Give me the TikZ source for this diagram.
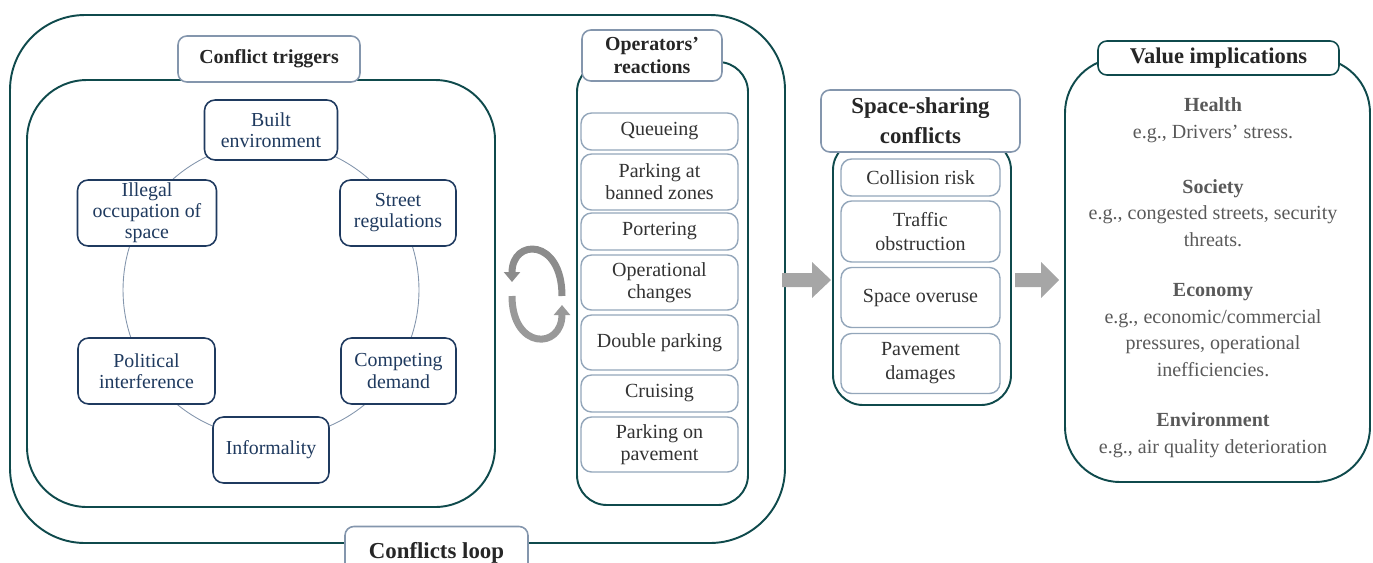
\documentclass[tikz,border=0pt]{standalone}
\usepackage{fontspec}
\setmainfont{Liberation Serif}
\usetikzlibrary{arrows.meta}
\definecolor{loopteal}{HTML}{0F4A4C}
\definecolor{trignavy}{HTML}{1F3A5F}
\definecolor{hdrblue}{HTML}{8496AD}
\definecolor{itmblue}{HTML}{93A6BA}
\definecolor{txtgray}{HTML}{333333}
\definecolor{valgray}{HTML}{595959}
\definecolor{arrgray}{HTML}{A6A6A6}

\begin{document}
\begin{tikzpicture}[x=0.02cm,y=-0.02cm,line cap=round,line join=round,
  every node/.style={inner sep=1pt,align=center},
  panel/.style={draw=loopteal,line width=1.1pt},
  hdr/.style={draw=hdrblue,fill=white,line width=0.9pt,rounded corners=5pt,text=black!85,font=\bfseries\fontsize{11.3}{13.5}\selectfont},
  trig/.style={draw=trignavy,fill=white,line width=0.9pt,rounded corners=6pt,text=trignavy,font=\fontsize{11.3}{12}\selectfont},
  reac/.style={draw=itmblue,fill=white,line width=0.8pt,rounded corners=6pt,text=txtgray,font=\fontsize{11.4}{12.5}\selectfont,minimum width=3.14cm},
  conf/.style={reac,minimum width=3.18cm,font=\fontsize{11.4}{13.7}\selectfont},
  valtxt/.style={text=valgray,font=\fontsize{11.4}{15.1}\selectfont},
  cyc/.style={line width=0.14cm,line cap=butt,-{Triangle[width=0.32cm,length=0.2cm]}},
  bigarr/.style={fill=arrgray}]
  \useasboundingbox (0,0) rectangle (1373,562);
  \clip (0,0) rectangle (1373,562);

  % frames
  \draw[panel,rounded corners=1.5cm] (10,15) rectangle (785,543);
  \draw[panel,rounded corners=1.2cm] (27,80) rectangle (495,507);
  \draw[panel,rounded corners=0.6cm] (577,62) rectangle (748,505);
  \draw[panel,rounded corners=0.6cm] (833,140) rectangle (1011,405);
  \draw[panel,rounded corners=1.1cm] (1065,58) rectangle (1370,482);

  % conflict triggers
  \draw[hdrblue,line width=0.5pt] (271,290) circle[radius=2.96cm];
  \node[trig,minimum width=2.66cm,minimum height=1.2cm] (bltenv) at (271,130) {Built\\environment};
  \node[trig,minimum width=2.32cm,minimum height=1.32cm] (strreg) at (398,213) {Street\\regulations};
  \node[trig,minimum width=2.78cm,minimum height=1.32cm] (illocc) at (147,213) {Illegal\\occupation of\\space};
  \node[trig,minimum width=2.74cm,minimum height=1.32cm] (polint) at (146.5,371) {Political\\interference};
  \node[trig,minimum width=2.3cm,minimum height=1.32cm] (cmpdem) at (398.5,371) {Competing\\demand};
  \node[trig,minimum width=2.32cm,minimum height=1.32cm] (infrm) at (271,450) {Informality};

  % operators' reactions
  \node[reac,minimum height=0.74cm] (rqueue) at (659.5,131.5) {Queueing};
  \node[reac,minimum height=1.12cm] (rban) at (659.5,182) {Parking at\\banned zones};
  \node[reac,minimum height=0.74cm] (rport) at (659.5,231.5) {Portering};
  \node[reac,minimum height=1.1cm] (roper) at (659.5,282.5) {Operational\\changes};
  \node[reac,minimum height=1.1cm] (rdouble) at (659.5,342.5) {Double parking};
  \node[reac,minimum height=0.74cm] (rcruise) at (659.5,393.5) {Cruising};
  \node[reac,minimum height=1.1cm] (rpave) at (659.5,444.5) {Parking on\\pavement};

  % space-sharing conflicts
  \node[conf,minimum height=0.74cm] (ccoll) at (920.5,177.5) {Collision risk};
  \node[conf,minimum height=1.22cm] (ctraf) at (920.5,231.5) {Traffic\\obstruction};
  \node[conf,minimum height=1.2cm] (cover) at (920.5,297.5) {Space overuse};
  \node[conf,minimum height=1.2cm] (cdamage) at (920.5,363.5) {Pavement\\damages};

  % value implications
  \node[valtxt] (vhealth) at (1213,120) {\textbf{Health}\\e.g., Drivers’ stress.};
  \node[valtxt] (vsoc) at (1213,213) {\textbf{Society}\\e.g., congested streets, security\\threats.};
  \node[valtxt] (vecon) at (1213,330) {\textbf{Economy}\\e.g., economic/commercial\\pressures, operational\\inefficiencies.};
  \node[valtxt] (venv) at (1213,435) {\textbf{Environment}\\e.g., air quality deterioration};

  % headers
  \node[hdr,minimum width=3.64cm,minimum height=0.92cm] (htrig) at (269,59) {Conflict triggers};
  \node[hdr,minimum width=2.8cm,minimum height=1.02cm] (hoper) at (652,55.5) {Operators’\\reactions};
  \node[hdr,minimum width=3.98cm,minimum height=1.24cm,font=\bfseries\fontsize{13}{17}\selectfont] (hspace) at (920.5,121) {Space-sharing\\conflicts};
  \node[hdr,draw=loopteal,minimum width=4.82cm,minimum height=0.68cm,font=\bfseries\fontsize{12.8}{14}\selectfont] (hvalue) at (1218.5,58) {Value implications};
  \node[hdr,minimum width=3.66cm,minimum height=1.06cm,font=\bfseries\fontsize{13}{15}\selectfont] (hloop) at (436.5,553) {Conflicts loop};

  % loop arrows
  \draw[cyc,black!45] (562,296) .. controls (562,238) and (512,238) .. (512,282);
  \draw[cyc,black!40] (512,296) .. controls (512,350) and (562,350) .. (562,305);

  % block arrows
  \fill[bigarr] (782,273) -- (812,273) -- (812,262) -- (831,280) -- (812,298) -- (812,287) -- (782,287) -- cycle;
  \fill[bigarr] (1015,273) -- (1041,273) -- (1041,262) -- (1059,280) -- (1041,298) -- (1041,287) -- (1015,287) -- cycle;
\end{tikzpicture}
\end{document}
